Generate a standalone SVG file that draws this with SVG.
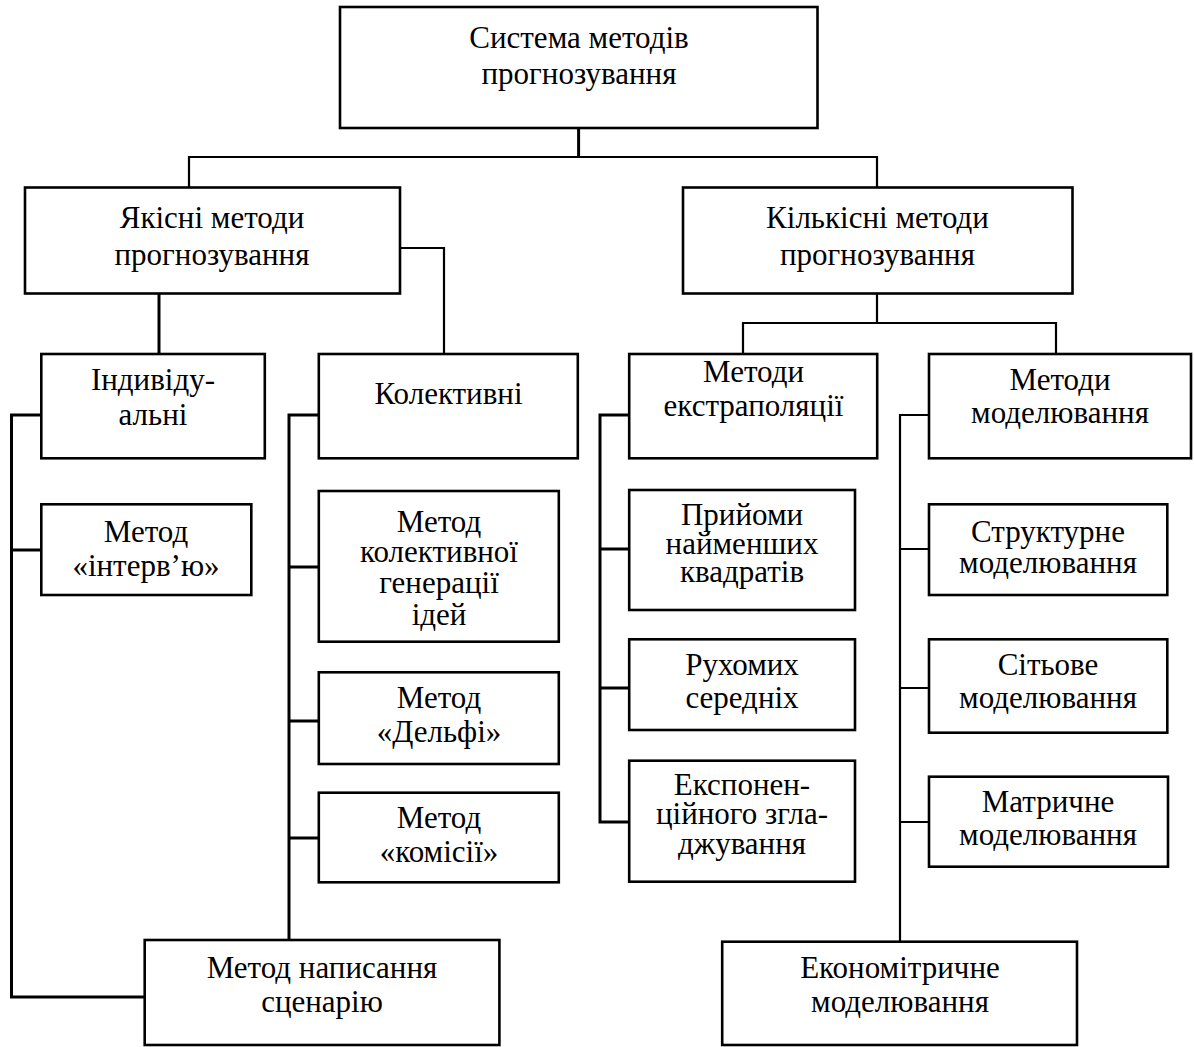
<svg xmlns="http://www.w3.org/2000/svg" width="1194" height="1047" viewBox="0 0 1194 1047">
<style>
.box{fill:#fff;stroke:#000;stroke-width:2.6}
.t{font-family:"Liberation Serif","Times New Roman",serif;font-size:31px;fill:#000;text-anchor:middle}
.c{fill:none;stroke:#000;stroke-width:2.2}
.ck{fill:none;stroke:#000;stroke-width:3}
</style>
<rect width="1194" height="1047" fill="#fff"/>
<g id="connectors">
<path class="ck" d="M578.6,128 V157"/>
<path class="c" d="M189,157 H877 M189,156 V188 M877,156 V188"/>
<path class="c" d="M400,248 H444 V355"/>
<path class="ck" d="M159,293 V355"/>
<path class="c" d="M877,293 V323 M743,323 H1056 M743,322 V355 M1056,322 V355"/>
<path class="ck" d="M41,415 H11.5 V997 H145 M11.5,550 H41"/>
<path class="ck" d="M319,415 H289 V941 M289,567 H319 M289,721 H319 M289,838 H319"/>
<path class="ck" d="M629,415 H600 V822 H629 M600,549 H629 M600,688 H629"/>
<path class="c" d="M929,415 H900 V942 M900,549 H929 M900,688 H929 M900,822 H929"/>
</g>
<g id="n-top"><rect class="box" x="340" y="7" width="477.5" height="121"/><text class="t" x="579" y="48">Система методів</text><text class="t" x="579" y="84">прогнозування</text></g>
<g id="n-yakisni"><rect class="box" x="25" y="187.5" width="375" height="106"/><text class="t" x="212" y="228">Якісні методи</text><text class="t" x="212" y="265">прогнозування</text></g>
<g id="n-kilkisni"><rect class="box" x="683" y="187.5" width="389.5" height="106"/><text class="t" x="877.5" y="228">Кількісні методи</text><text class="t" x="877.5" y="265">прогнозування</text></g>
<g id="n-indyv"><rect class="box" x="41.3" y="354" width="223.5" height="104.3"/><text class="t" x="153" y="390">Індивіду-</text><text class="t" x="153" y="425">альні</text></g>
<g id="n-kolekt"><rect class="box" x="318.8" y="354" width="259" height="104.3"/><text class="t" x="448.5" y="404">Колективні</text></g>
<g id="n-extrap"><rect class="box" x="629.2" y="354" width="248" height="104.3"/><text class="t" x="753.5" y="382">Методи</text><text class="t" x="753.5" y="416">екстраполяції</text></g>
<g id="n-model"><rect class="box" x="929" y="354" width="262" height="104.3"/><text class="t" x="1060" y="390">Методи</text><text class="t" x="1060" y="423">моделювання</text></g>
<g id="n-interv"><rect class="box" x="41.3" y="504.3" width="210" height="90.7"/><text class="t" x="146" y="542">Метод</text><text class="t" x="146" y="576">«інтерв’ю»</text></g>
<g id="n-kolgen"><rect class="box" x="318.8" y="491" width="240" height="150.7"/><text class="t" x="439" y="532">Метод</text><text class="t" x="439" y="562">колективної</text><text class="t" x="439" y="593">генерації</text><text class="t" x="439" y="625">ідей</text></g>
<g id="n-delfi"><rect class="box" x="318.8" y="672.3" width="240" height="91.7"/><text class="t" x="439" y="708">Метод</text><text class="t" x="439" y="742">«Дельфі»</text></g>
<g id="n-komisii"><rect class="box" x="318.8" y="792.7" width="240" height="89.6"/><text class="t" x="439" y="828">Метод</text><text class="t" x="439" y="862">«комісії»</text></g>
<g id="n-scenar"><rect class="box" x="144.7" y="940" width="354.7" height="105"/><text class="t" x="322" y="978">Метод написання</text><text class="t" x="322" y="1012">сценарію</text></g>
<g id="n-pryiomy"><rect class="box" x="629.2" y="490" width="225.8" height="120"/><text class="t" x="742" y="525">Прийоми</text><text class="t" x="742" y="554">найменших</text><text class="t" x="742" y="582">квадратів</text></g>
<g id="n-rukh"><rect class="box" x="629.2" y="639.3" width="225.8" height="90.7"/><text class="t" x="742" y="675">Рухомих</text><text class="t" x="742" y="708">середніх</text></g>
<g id="n-exp"><rect class="box" x="629.2" y="760.7" width="225.8" height="121"/><text class="t" x="742" y="795">Експонен-</text><text class="t" x="742" y="824">ційного згла-</text><text class="t" x="742" y="854">джування</text></g>
<g id="n-strukt"><rect class="box" x="929" y="504.3" width="238.3" height="90.7"/><text class="t" x="1048" y="542">Структурне</text><text class="t" x="1048" y="573">моделювання</text></g>
<g id="n-sit"><rect class="box" x="929" y="639.3" width="238.3" height="93.4"/><text class="t" x="1048" y="675">Сітьове</text><text class="t" x="1048" y="708">моделювання</text></g>
<g id="n-matr"><rect class="box" x="929" y="776.7" width="239" height="90"/><text class="t" x="1048" y="812">Матричне</text><text class="t" x="1048" y="845">моделювання</text></g>
<g id="n-econ"><rect class="box" x="722.2" y="941.7" width="354.8" height="103.3"/><text class="t" x="900" y="978">Економітричне</text><text class="t" x="900" y="1012">моделювання</text></g>
</svg>
